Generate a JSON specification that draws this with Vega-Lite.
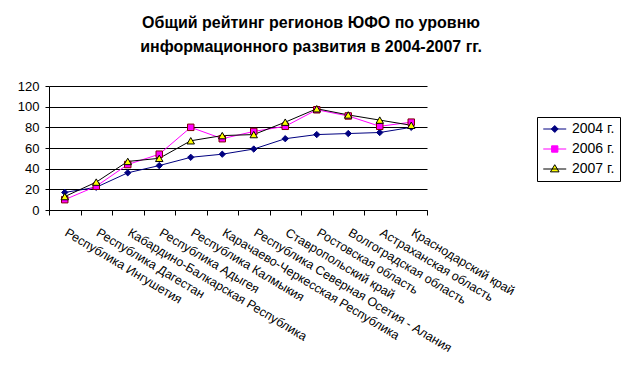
{
  "$schema": "https://vega.github.io/schema/vega-lite/v6.json",
  "autosize": "none",
  "width": 378,
  "height": 124,
  "padding": {"left": 49, "top": 86, "right": 196, "bottom": 158},
  "background": "white",
  "title": {
    "text": ["Общий рейтинг регионов ЮФО по уровню", "информационного развития в 2004-2007 гг."],
    "font": "Liberation Sans",
    "fontSize": 16,
    "fontWeight": "bold",
    "color": "black",
    "lineHeight": 24,
    "anchor": "middle",
    "frame": "group",
    "dx": 73,
    "offset": 25
  },
  "config": {
    "view": {"stroke": null},
    "axis": {"labelFont": "Liberation Sans", "labelColor": "black", "domainColor": "black", "tickColor": "black", "titleFont": "Liberation Sans"}
  },
  "data": {
    "values": [
      {"region": "Республика Ингушетия", "year": "2004 г.", "value": 17},
      {"region": "Республика Дагестан", "year": "2004 г.", "value": 22},
      {"region": "Кабардино-Балкарская Республика", "year": "2004 г.", "value": 36},
      {"region": "Республика Адыгея", "year": "2004 г.", "value": 43},
      {"region": "Республика Калмыкия", "year": "2004 г.", "value": 51},
      {"region": "Карачаево-Черкесская Республика", "year": "2004 г.", "value": 54},
      {"region": "Республика Северная Осетия - Алания", "year": "2004 г.", "value": 59},
      {"region": "Ставропольский край", "year": "2004 г.", "value": 69},
      {"region": "Ростовская область", "year": "2004 г.", "value": 73},
      {"region": "Волгоградская область", "year": "2004 г.", "value": 74},
      {"region": "Астраханская область", "year": "2004 г.", "value": 75},
      {"region": "Краснодарский край", "year": "2004 г.", "value": 80},
      {"region": "Республика Ингушетия", "year": "2006 г.", "value": 10},
      {"region": "Республика Дагестан", "year": "2006 г.", "value": 23},
      {"region": "Кабардино-Балкарская Республика", "year": "2006 г.", "value": 44},
      {"region": "Республика Адыгея", "year": "2006 г.", "value": 54},
      {"region": "Республика Калмыкия", "year": "2006 г.", "value": 80},
      {"region": "Карачаево-Черкесская Республика", "year": "2006 г.", "value": 69},
      {"region": "Республика Северная Осетия - Алания", "year": "2006 г.", "value": 76},
      {"region": "Ставропольский край", "year": "2006 г.", "value": 81},
      {"region": "Ростовская область", "year": "2006 г.", "value": 97},
      {"region": "Волгоградская область", "year": "2006 г.", "value": 91},
      {"region": "Астраханская область", "year": "2006 г.", "value": 81},
      {"region": "Краснодарский край", "year": "2006 г.", "value": 85},
      {"region": "Республика Ингушетия", "year": "2007 г.", "value": 13},
      {"region": "Республика Дагестан", "year": "2007 г.", "value": 27},
      {"region": "Кабардино-Балкарская Республика", "year": "2007 г.", "value": 47},
      {"region": "Республика Адыгея", "year": "2007 г.", "value": 50},
      {"region": "Республика Калмыкия", "year": "2007 г.", "value": 67},
      {"region": "Карачаево-Черкесская Республика", "year": "2007 г.", "value": 72},
      {"region": "Республика Северная Осетия - Алания", "year": "2007 г.", "value": 73},
      {"region": "Ставропольский край", "year": "2007 г.", "value": 85},
      {"region": "Ростовская область", "year": "2007 г.", "value": 98},
      {"region": "Волгоградская область", "year": "2007 г.", "value": 92},
      {"region": "Астраханская область", "year": "2007 г.", "value": 87},
      {"region": "Краснодарский край", "year": "2007 г.", "value": 82}
    ]
  },
  "encoding": {
    "x": {
      "field": "region",
      "type": "nominal",
      "sort": null,
      "bandPosition": 0.5,
      "scale": {"type": "band", "paddingInner": 0, "paddingOuter": 0},
      "axis": {
        "title": null,
        "labelAngle": 31,
        "labelAlign": "left",
        "labelBaseline": "top",
        "labelFontSize": 12.5,
        "labelPadding": 11,
        "labelOffset": 4,
        "labelLimit": 0,
        "labelOverlap": false,
        "tickBand": "extent",
        "tickSize": 5,
        "grid": false
      }
    },
    "y": {
      "field": "value",
      "type": "quantitative",
      "scale": {"domain": [0, 120], "nice": false},
      "axis": {
        "title": null,
        "values": [0, 20, 40, 60, 80, 100, 120],
        "grid": true,
        "gridColor": "black",
        "gridOpacity": 1,
        "gridWidth": 1,
        "labelFontSize": 13,
        "labelPadding": 6,
        "tickSize": 4
      }
    }
  },
  "layer": [
    {
      "mark": {"type": "line", "strokeWidth": 1},
      "encoding": {
        "color": {
          "field": "year",
          "type": "nominal",
          "scale": {"domain": ["2004 г.", "2006 г.", "2007 г."], "range": ["#000080", "#FF00FF", "#000000"]},
          "legend": {
            "title": null,
            "orient": "none",
            "legendX": 488,
            "legendY": 31,
            "strokeColor": "black",
            "fillColor": "white",
            "padding": 5,
            "labelFont": "Liberation Sans",
            "labelFontSize": 14,
            "labelColor": "black",
            "symbolSize": 132,
            "labelOffset": 16,
            "rowPadding": 6,
            "encode": {
              "symbols": {
                "update": {
                  "shape": {"signal": "datum.value === '2004 г.' ? 'M-1,0H3M0.4,0L1,-0.6L1.6,0L1,0.6Z' : datum.value === '2006 г.' ? 'M-1,0H3M0.45,-0.55H1.55V0.55H0.45Z' : 'M-1,0H3M0.25,0.5L1,-0.75L1.75,0.5Z'"},
                  "fill": {"signal": "datum.value === '2004 г.' ? '#000080' : datum.value === '2006 г.' ? '#FF00FF' : '#FFFF00'"},
                  "stroke": {"signal": "datum.value === '2004 г.' ? '#000080' : datum.value === '2006 г.' ? '#FF00FF' : '#000000'"},
                  "strokeWidth": {"value": 1},
                  "opacity": {"value": 1},
                  "fillOpacity": {"value": 1}
                }
              }
            }
          }
        }
      }
    },
    {
      "transform": [{"filter": "datum.year === '2004 г.'"}],
      "mark": {"type": "point", "shape": "diamond", "filled": true, "fill": "#000080", "stroke": "#000080", "strokeWidth": 1, "opacity": 1, "size": 40}
    },
    {
      "transform": [{"filter": "datum.year === '2006 г.'"}],
      "mark": {"type": "point", "shape": "square", "filled": true, "fill": "#FF00FF", "stroke": "#800000", "strokeWidth": 1, "opacity": 1, "size": 42}
    },
    {
      "transform": [{"filter": "datum.year === '2007 г.'"}],
      "mark": {"type": "point", "shape": "triangle-up", "filled": true, "fill": "#FFFF00", "stroke": "#000000", "strokeWidth": 1, "opacity": 1, "size": 55}
    }
  ]
}
